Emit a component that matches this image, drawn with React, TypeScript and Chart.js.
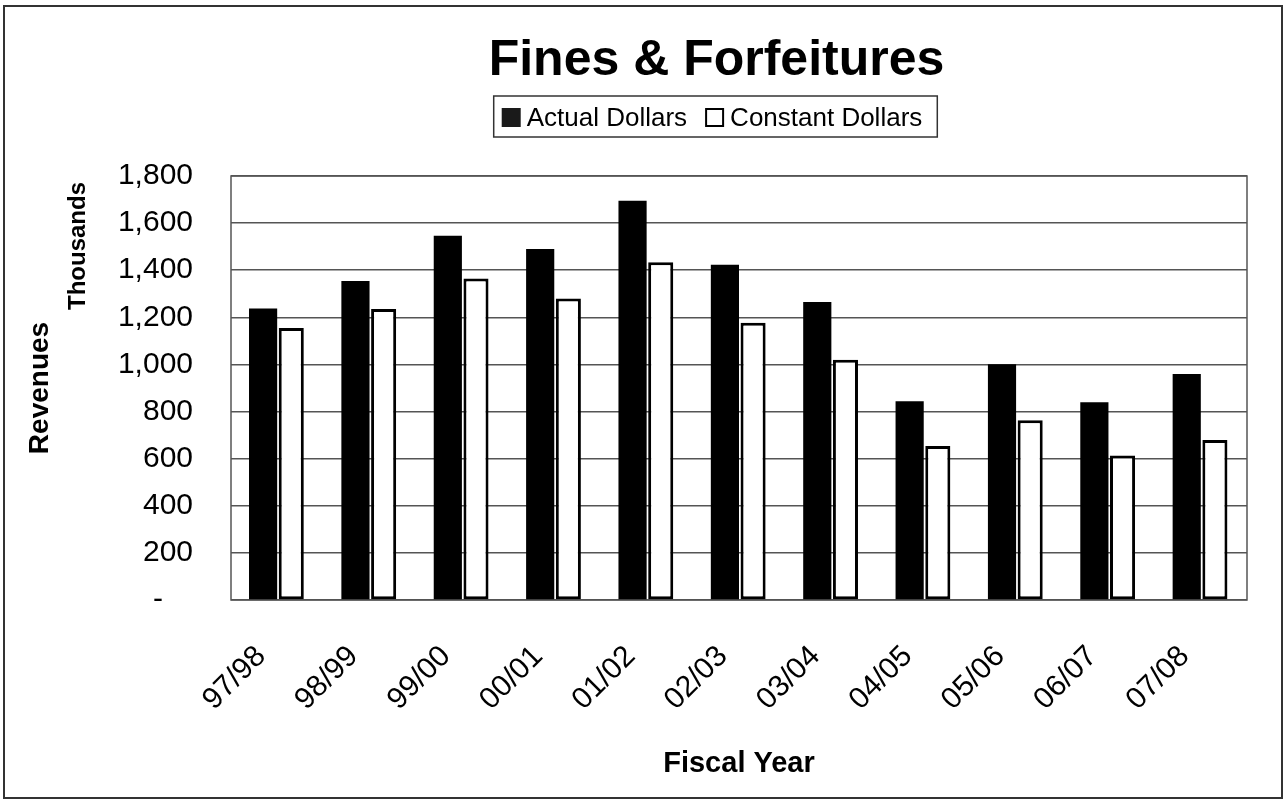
import React, { useEffect, useRef } from 'react';
import { Chart, registerables } from 'chart.js';

Chart.register(...registerables);

// ---- Data ----
const categories: string[] = ['97/98', '98/99', '99/00', '00/01', '01/02', '02/03', '03/04', '04/05', '05/06', '06/07', '07/08'];
const actualDollars: number[] = [1238, 1354, 1546, 1490, 1695, 1423, 1265, 844, 1001, 840, 959];
const constantDollars: number[] = [1155, 1235, 1365, 1280, 1434, 1177, 1020, 654, 763, 613, 679];
const seriesNames: string[] = ['Actual Dollars', 'Constant Dollars'];
const chartTitle = 'Fines & Forfeitures';
const yAxisTitle = 'Revenues';
const yUnitLabel = 'Thousands';
const xAxisTitle = 'Fiscal Year';
const yMin = 0;
const yMax = 1800;
const yStep = 200;

const FONT = '"Liberation Sans", Arial, Helvetica, sans-serif';

const decorPlugin = {
  id: 'decor',
  beforeDraw(chart: any) {
    const ctx = chart.ctx;
    ctx.save();
    ctx.fillStyle = '#ffffff';
    ctx.fillRect(0, 0, chart.width, chart.height);
    ctx.strokeStyle = '#333333';
    ctx.lineWidth = 2;
    ctx.strokeRect(4, 6, chart.width - 6, chart.height - 7);
    ctx.restore();
  },
  beforeDatasetsDraw(chart: any) {
    const { ctx, chartArea: a } = chart;
    ctx.save();
    ctx.strokeStyle = '#555555';
    ctx.lineWidth = 1.5;
    ctx.strokeRect(a.left, a.top, a.right - a.left, a.bottom - a.top);
    ctx.restore();
  },
  afterDraw(chart: any) {
    const ctx = chart.ctx;
    ctx.save();
    // Title
    ctx.fillStyle = '#000';
    ctx.font = `bold 50px ${FONT}`;
    ctx.textAlign = 'center';
    ctx.textBaseline = 'alphabetic';
    ctx.fillText(chartTitle, 716.5, 75);

    // Legend (boxed)
    ctx.font = `26px ${FONT}`;
    ctx.textAlign = 'left';
    const sq = 19;
    const w0 = ctx.measureText(seriesNames[0]).width;
    const w1 = ctx.measureText(seriesNames[1]).width;
    const total = 8 + sq + 6 + w0 + 18 + sq + 6 + w1 + 15;
    const lx = 715.5 - total / 2;
    const ly = 96;
    const lh = 41;
    ctx.strokeStyle = '#333';
    ctx.lineWidth = 1.5;
    ctx.strokeRect(lx, ly, total, lh);
    let x = lx + 8;
    ctx.fillStyle = '#1a1a1a';
    ctx.fillRect(x, 108, sq, sq);
    x += sq + 6;
    ctx.fillStyle = '#000';
    ctx.fillText(seriesNames[0], x, 126);
    x += w0 + 18;
    ctx.fillStyle = '#fff';
    ctx.fillRect(x, 108, sq, sq);
    ctx.strokeStyle = '#000';
    ctx.lineWidth = 2;
    ctx.strokeRect(x + 1, 109, sq - 2, sq - 2);
    x += sq + 6;
    ctx.fillStyle = '#000';
    ctx.fillText(seriesNames[1], x, 126);

    // Display-units label
    ctx.translate(78, 246);
    ctx.rotate(-Math.PI / 2);
    ctx.font = `bold 24px ${FONT}`;
    ctx.textAlign = 'center';
    ctx.textBaseline = 'middle';
    ctx.fillText(yUnitLabel, 0, 0);
    ctx.restore();
  },
};

export default function App() {
  const canvasRef = useRef<HTMLCanvasElement | null>(null);

  useEffect(() => {
    if (!canvasRef.current) return;
    const chart = new Chart(canvasRef.current, {
      type: 'bar',
      data: {
        labels: categories,
        datasets: [
          {
            label: seriesNames[0],
            data: actualDollars,
            backgroundColor: '#000000',
            borderColor: '#000000',
            borderWidth: 0,
            categoryPercentage: 0.61,
            barPercentage: 1.0,
          },
          {
            label: seriesNames[1],
            data: constantDollars,
            backgroundColor: '#ffffff',
            borderColor: '#000000',
            borderWidth: 3,
            borderSkipped: false,
            categoryPercentage: 0.61,
            barPercentage: 0.89,
          },
        ],
      },
      options: {
        animation: false,
        responsive: false,
        devicePixelRatio: 1,
        layout: { padding: { left: 0, right: 37, top: 176, bottom: 0 } },
        plugins: {
          legend: { display: false },
          title: { display: false },
          tooltip: { enabled: false },
        },
        scales: {
          x: {
            grid: { display: false, drawTicks: false },
            border: { display: false },
            ticks: {
              autoSkip: false,
              maxRotation: 45,
              minRotation: 45,
              padding: 39,
              labelOffset: -16,
              color: '#000',
              font: { size: 30, family: FONT },
            },
            title: {
              display: true,
              text: xAxisTitle,
              color: '#000',
              font: { size: 29, weight: 'bold', family: FONT },
              padding: { top: 0, bottom: 18 },
            },
            afterFit: (s: any) => {
              s.height = 199;
            },
          },
          y: {
            min: yMin,
            max: yMax,
            grid: { color: '#555555', lineWidth: 1.5, drawTicks: false },
            border: { display: false },
            ticks: {
              stepSize: yStep,
              padding: 38,
              color: '#000',
              font: { size: 30, family: FONT },
              callback: (v: any) => (Number(v) === 0 ? '-\u2002\u2002' : Number(v).toLocaleString('en-US')),
            },
            title: {
              display: true,
              text: yAxisTitle,
              color: '#000',
              font: { size: 28, weight: 'bold', family: FONT },
              padding: { top: 23.5, bottom: 0 },
            },
            afterFit: (s: any) => {
              s.width = 231;
            },
          },
        },
      } as any,
      plugins: [decorPlugin],
    });
    return () => chart.destroy();
  }, []);

  return (
    <div style={{ position: 'absolute', left: 0, top: 0, width: 1284, height: 799, background: '#fff' }}>
      <canvas ref={canvasRef} width={1284} height={799} style={{ display: 'block' }} />
    </div>
  );
}
